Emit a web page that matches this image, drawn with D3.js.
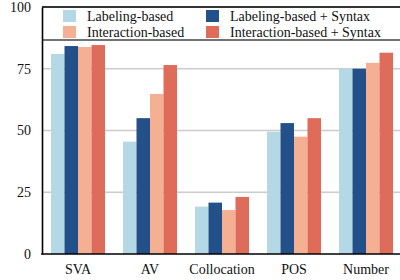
<!DOCTYPE html>
<html><head><meta charset="utf-8">
<script src="https://cdn.jsdelivr.net/npm/d3@7"></script>
<style>body{margin:0;background:#fff;} svg{display:block;}</style>
</head><body>
<svg id="c" width="400" height="280"></svg>
<script>
const categories = ["SVA","AV","Collocation","POS","Number"];
const seriesNames = ["Labeling-based","Labeling-based + Syntax","Interaction-based","Interaction-based + Syntax"];
const labeling = [81, 45.5, 19.2, 49.5, 75];
const labelingSyntax = [84.2, 55, 20.8, 53, 75];
const interaction = [83.8, 64.8, 17.8, 47.5, 77.4];
const interactionSyntax = [84.6, 76.5, 23.1, 55, 81.5];
const yTicks = [0, 25, 50, 75, 100];
const colors = ["#b4d8e5", "#24508a", "#f5b093", "#de6c58"];
const seriesValues = [labeling, labelingSyntax, interaction, interactionSyntax];
const FONT = '"Liberation Serif", "Times New Roman", serif';

const svg = d3.select("#c");
const mLeft = 42, mRight = 402, mTop = 7, mBottom = 254;

const x = d3.scaleBand().domain(categories).range([mLeft, mRight]).paddingInner(0.25).paddingOuter(0.125);
const xs = d3.scaleBand().domain(d3.range(4)).range([0, x.bandwidth()]);
const y = d3.scaleLinear().domain([0, 100]).range([mBottom, mTop]);

// gridlines
svg.append("g").selectAll("line").data(yTicks.filter(t => t > 0 && t < 100)).join("line")
  .attr("x1", mLeft).attr("x2", 400).attr("y1", d => y(d)).attr("y2", d => y(d))
  .attr("stroke", "#cccccc").attr("stroke-width", 1.5);

// bars
const rows = [];
categories.forEach((c, i) => seriesValues.forEach((s, j) => rows.push({c, j, v: s[i]})));
svg.append("g").selectAll("rect").data(rows).join("rect")
  .attr("x", d => x(d.c) + xs(d.j))
  .attr("width", xs.bandwidth())
  .attr("y", d => y(d.v))
  .attr("height", d => y(0) - y(d.v))
  .attr("fill", d => colors[d.j]);

// legend box
svg.append("rect").attr("x", mLeft).attr("y", mTop).attr("width", 400 - mLeft + 5).attr("height", 33)
  .attr("fill", "#fff");
svg.append("line").attr("x1", mLeft).attr("x2", 400).attr("y1", 40).attr("y2", 40)
  .attr("stroke", "#444").attr("stroke-width", 1.3);
svg.append("line").attr("x1", mLeft).attr("x2", 400).attr("y1", mTop).attr("y2", mTop)
  .attr("stroke", "#333").attr("stroke-width", 2);

const legPos = [[63, 10], [206, 10], [63, 26], [206, 26]];
const lg = svg.append("g").selectAll("g").data(seriesNames).join("g")
  .attr("transform", (d, i) => `translate(${legPos[i][0]},${legPos[i][1]})`);
lg.append("rect").attr("width", 13).attr("height", 12).attr("fill", (d, i) => colors[i]);
lg.append("text").attr("x", 24).attr("y", 10.5)
  .style("font-family", FONT).style("font-size", "14px").attr("fill", "#111").text(d => d);

// axes
const yAxis = d3.axisLeft(y).tickValues(yTicks).tickSize(0).tickPadding(11);
const ga = svg.append("g").attr("transform", `translate(${mLeft},0)`).call(yAxis);
ga.select(".domain").attr("stroke", "#000").attr("stroke-width", 1.6);
ga.selectAll("text").style("font-family", FONT).style("font-size", "14px").attr("fill", "#111");

const xAxis = d3.axisBottom(x).tickSize(0).tickPadding(10);
const gx = svg.append("g").attr("transform", `translate(0,${mBottom})`).call(xAxis);
gx.select(".domain").attr("d", `M${mLeft-0.8},0H402`).attr("stroke", "#000").attr("stroke-width", 1.6);
gx.selectAll("text").style("font-family", FONT).style("font-size", "14px").attr("fill", "#111");
</script>
</body></html>
